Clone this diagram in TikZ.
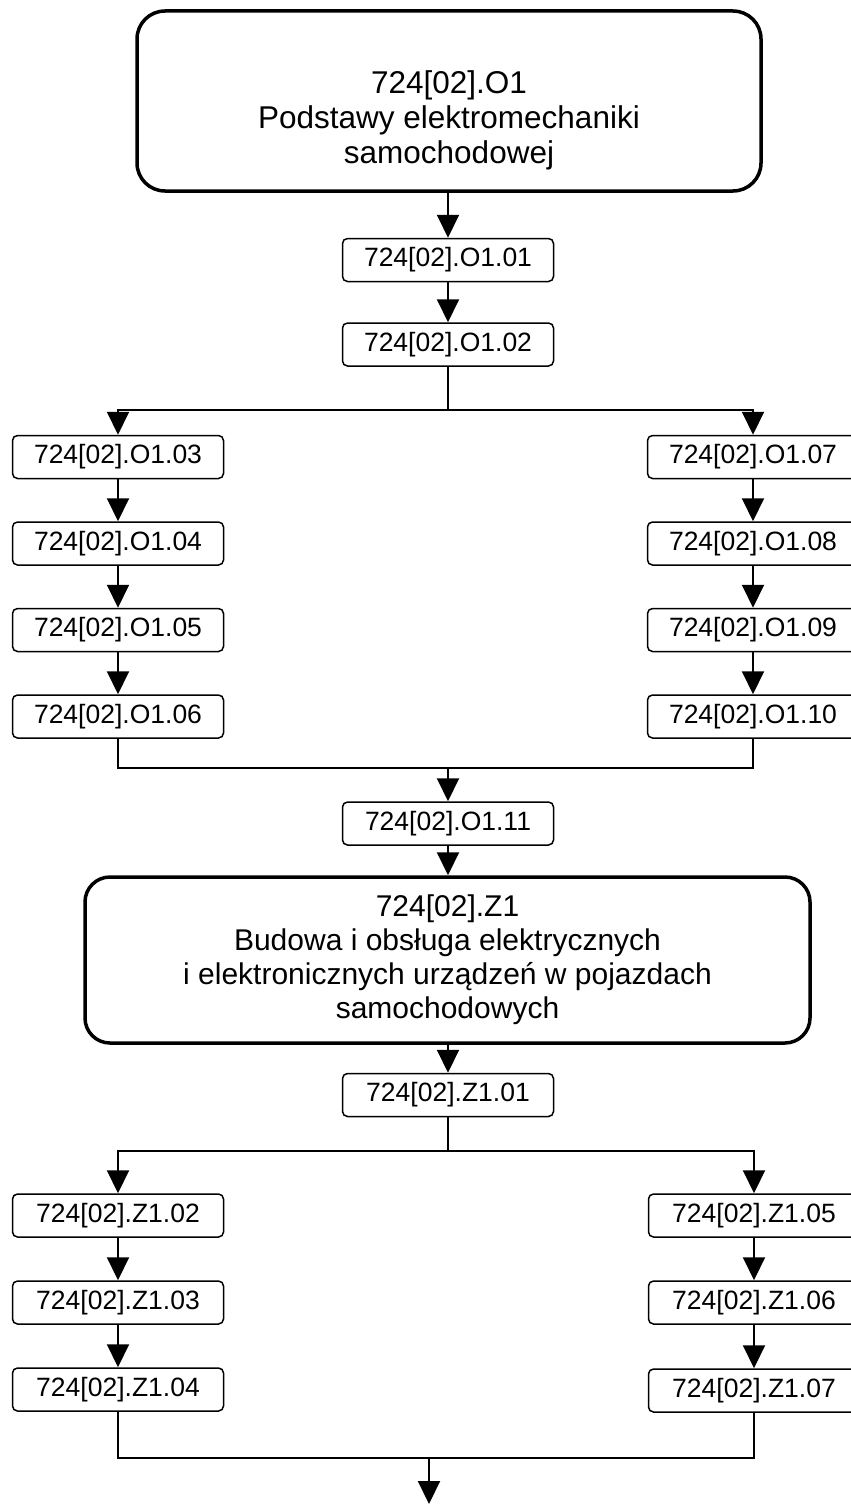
\documentclass[tikz,border=0pt]{standalone}
\usepackage{fontspec}
\setmainfont{Liberation Sans}
\usetikzlibrary{arrows.meta}
\tikzset{
  smallbox/.style={draw, line width=1.5, rounded corners=5, minimum width=211, minimum height=43, inner sep=0, font=\fontsize{26.5}{30}\selectfont},
  bigbox/.style={draw, line width=3.5, rounded corners=28, inner sep=0},
  bigtext/.style={align=center, inner sep=0},
  conn/.style={line width=2},
  arr/.style={line width=2, -{Triangle[width=22pt,length=23pt]}}
}
\begin{document}
\begin{tikzpicture}[x=1pt,y=-1pt]
\useasboundingbox (0,0) rectangle (851,1504);
\clip (0,0) rectangle (851,1504);
% top box
\node[bigbox, minimum width=624, minimum height=180] (top) at (449,101) {};
\node[bigtext, font=\fontsize{31.5}{35}\selectfont] (toptext) at (449,120) {724[02].O1\\Podstawy elektromechaniki\\samochodowej};
\node[smallbox] (o101) at (448,260) {724[02].O1.01};
\node[smallbox] (o102) at (448,344.5) {724[02].O1.02};
\coordinate (s1) at (448,410);
\node[smallbox] (o103) at (118,457) {724[02].O1.03};
\node[smallbox] (o104) at (118,543.5) {724[02].O1.04};
\node[smallbox] (o105) at (118,630) {724[02].O1.05};
\node[smallbox] (o106) at (118,716.5) {724[02].O1.06};
\node[smallbox] (o107) at (753,457) {724[02].O1.07};
\node[smallbox] (o108) at (753,543.5) {724[02].O1.08};
\node[smallbox] (o109) at (753,630) {724[02].O1.09};
\node[smallbox] (o110) at (753,716.5) {724[02].O1.10};
\coordinate (j1) at (448,768);
\node[smallbox] (o111) at (448,823.5) {724[02].O1.11};
\node[bigbox, minimum width=725, minimum height=166, rounded corners=25, align=center, font=\fontsize{30}{34}\selectfont] (z1) at (447.5,960) {724[02].Z1\\Budowa i obsługa elektrycznych\\i elektronicznych urządzeń w pojazdach\\samochodowych};
\node[smallbox] (z101) at (448,1095) {724[02].Z1.01};
\coordinate (s2) at (448,1151);
\node[smallbox] (z102) at (118,1215.5) {724[02].Z1.02};
\node[smallbox] (z103) at (118,1302.5) {724[02].Z1.03};
\node[smallbox] (z104) at (118,1389.5) {724[02].Z1.04};
\node[smallbox] (z105) at (754,1215.5) {724[02].Z1.05};
\node[smallbox] (z106) at (754,1302.5) {724[02].Z1.06};
\node[smallbox] (z107) at (754,1390.5) {724[02].Z1.07};
\coordinate (j2) at (429,1458);
\coordinate (end) at (429,1504);
% connectors
\draw[arr] (top.south -| o101.north) -- (o101.north);
\draw[arr] (o101) -- (o102);
\draw[conn] (o102) -- (s1);
\draw[arr] (s1) -| (o103);
\draw[arr] (s1) -| (o107);
\draw[arr] (o103) -- (o104);
\draw[arr] (o104) -- (o105);
\draw[arr] (o105) -- (o106);
\draw[arr] (o107) -- (o108);
\draw[arr] (o108) -- (o109);
\draw[arr] (o109) -- (o110);
\draw[conn] (o106) |- (j1) -| (o110);
\draw[arr] (j1) -- (o111);
\draw[arr] (o111) -- (z1.north -| o111.south);
\draw[arr] (z1.south -| z101.north) -- (z101.north);
\draw[conn] (z101) -- (s2);
\draw[arr] (s2) -| (z102);
\draw[arr] (s2) -| (z105);
\draw[arr] (z102) -- (z103);
\draw[arr] (z103) -- (z104);
\draw[arr] (z105) -- (z106);
\draw[arr] (z106) -- (z107);
\draw[conn] (z104) |- (j2) -| (z107);
\draw[arr] (j2) -- (end);
\end{tikzpicture}
\end{document}
